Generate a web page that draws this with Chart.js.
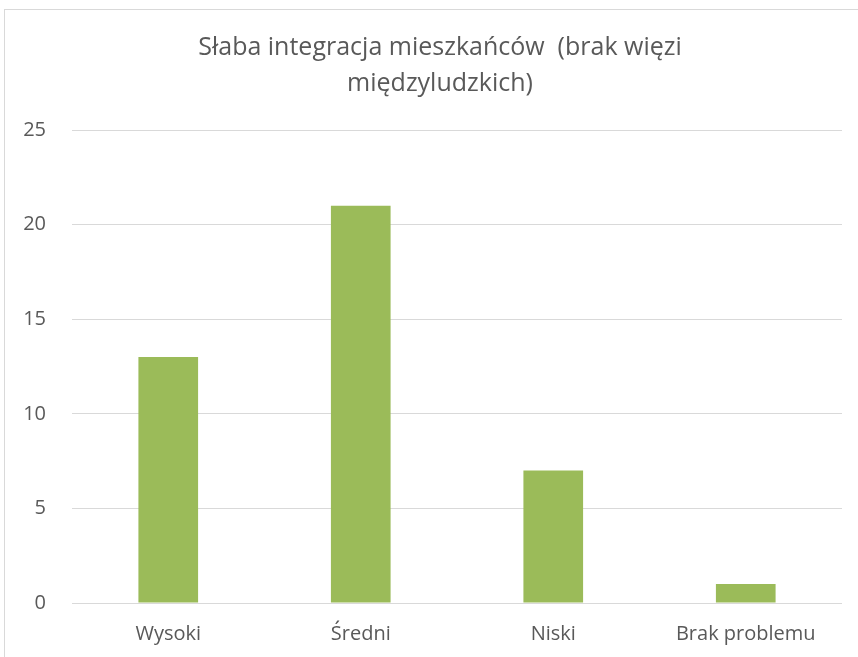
<!DOCTYPE html>
<html>
<head>
<meta charset="utf-8">
<script src="https://cdn.jsdelivr.net/npm/chart.js@4"></script>
<style>
  html, body { margin: 0; padding: 0; background: #fff; overflow: hidden; }
  #frame { position: absolute; left: 4px; top: 9px; width: 900px; height: 700px; border: 1px solid #d9d9d9; }
  #wrap { position: absolute; left: 0; top: 0; width: 858px; height: 657px; }
</style>
</head>
<body>
<div id="frame"></div>
<div id="wrap"><canvas id="chart"></canvas></div>
<script>
// categories and values
const categories = ['Wysoki', 'Średni', 'Niski', 'Brak problemu'];
const values = [13, 21, 7, 1];
const titleLines = ['Słaba integracja mieszkańców  (brak więzi', 'międzyludzkich)'];

const textColor = '#595959';
const fontFamily = "'Open Sans', sans-serif";

// title drawn centred on the whole picture, like the original
const titlePlugin = {
  id: 'twoLineTitle',
  afterDraw(chart) {
    const c = chart.ctx;
    c.save();
    c.fillStyle = textColor;
    c.font = "25px " + fontFamily;
    c.textAlign = 'center';
    c.textBaseline = 'middle';
    c.fillText(titleLines[0], 440, 48);
    c.fillText(titleLines[1], 440, 84);
    c.restore();
  }
};

const ctx = document.getElementById('chart').getContext('2d');
new Chart(ctx, {
  type: 'bar',
  data: {
    labels: categories,
    datasets: [{
      data: values,
      backgroundColor: '#9bbb59',
      barPercentage: 0.62,
      categoryPercentage: 0.5
    }]
  },
  options: {
    responsive: true,
    maintainAspectRatio: false,
    animation: false,
    layout: { padding: { left: 0, right: 16, top: 130, bottom: 0 } },
    plugins: {
      legend: { display: false },
      tooltip: { enabled: false },
      title: { display: false }
    },
    scales: {
      x: {
        grid: { display: false, drawTicks: false },
        border: { display: false },
        ticks: { color: textColor, font: { family: fontFamily, size: 20 }, padding: 19 },
        afterFit: (scale) => { scale.height = 54; }
      },
      y: {
        min: 0,
        max: 25,
        ticks: { stepSize: 5, color: textColor, font: { family: fontFamily, size: 20 }, padding: 26 },
        grid: { color: '#d9d9d9', lineWidth: 1, drawTicks: false },
        border: { display: false },
        afterFit: (scale) => { scale.width = 72; }
      }
    }
  },
  plugins: [titlePlugin]
});
</script>
</body>
</html>
